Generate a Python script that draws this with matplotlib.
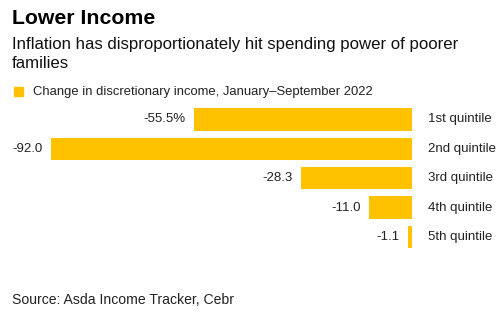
import matplotlib.pyplot as plt

categories = ["1st quintile", "2nd quintile", "3rd quintile", "4th quintile", "5th quintile"]
values = [-55.5, -92.0, -28.3, -11.0, -1.1]
value_labels = ["-55.5%", "-92.0", "-28.3", "-11.0", "-1.1"]

BAR = "#ffc200"
FONT = "Liberation Sans"

def main():
    plt.rcParams["font.family"] = [FONT, "DejaVu Sans"]
    fig = plt.figure(figsize=(5, 3.24), dpi=100)
    W, H = 500, 324
    ax = fig.add_axes([51 / W, 1 - 251.7 / H, 361 / W, 147 / H])

    ys = list(range(len(categories)))
    ax.barh(ys, values, height=0.76, color=BAR)
    ax.set_xlim(-92.0, 0)
    ax.set_ylim(len(categories) - 0.5, -0.5)
    ax.axis("off")

    for y, v, lab, cat in zip(ys, values, value_labels, categories):
        ax.annotate(lab, (v, y), xytext=(-6, 0), textcoords="offset points",
                    ha="right", va="center", fontsize=9.5, color="#222222")
        ax.annotate(cat, (0, y), xytext=(11.5, 0), textcoords="offset points",
                    ha="left", va="center", fontsize=9.5, color="#222222")

    fig.text(12 / W, 1 - 18 / H, "Lower Income", fontsize=15.3, fontweight="bold",
             va="center", ha="left", color="#000000")
    fig.text(12 / W, 1 - 45 / H, "Inflation has disproportionately hit spending power of poorer",
             fontsize=12.1, va="center", ha="left", color="#111111")
    fig.text(12 / W, 1 - 64 / H, "families",
             fontsize=12.1, va="center", ha="left", color="#111111")

    fig.patches.append(plt.Rectangle((14 / W, 1 - 96 / H), 9 / W, 9 / H,
                                     transform=fig.transFigure, color=BAR))
    fig.text(33 / W, 1 - 91.5 / H, "Change in discretionary income, January\u2013September 2022",
             fontsize=9.4, va="center", ha="left", color="#222222")

    fig.text(12 / W, 1 - 300 / H, "Source: Asda Income Tracker, Cebr",
             fontsize=10.1, va="center", ha="left", color="#222222")

    fig.savefig("out.png", dpi=100)

if __name__ == "__main__":
    main()
